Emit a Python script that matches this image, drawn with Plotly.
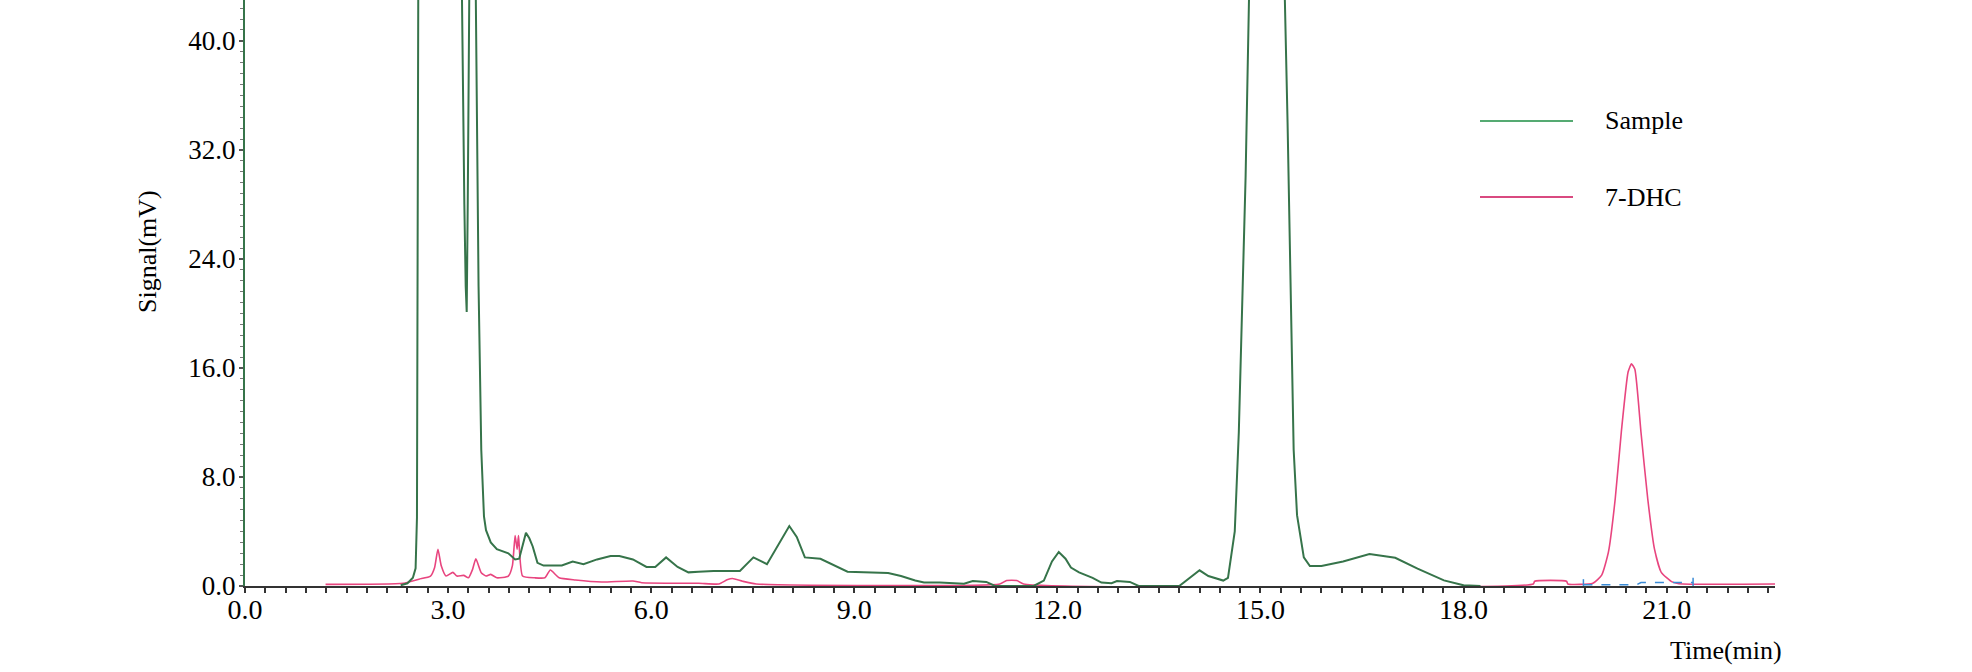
import plotly.graph_objects as go

# ---- data ----
sample_t = [2.30, 2.40, 2.48, 2.52, 2.54, 2.56, 2.65, 2.85, 3.05, 3.17, 3.20, 3.22, 3.24, 3.26, 3.275,
            3.29, 3.31, 3.36, 3.40, 3.41, 3.43, 3.45, 3.47, 3.49, 3.53, 3.56, 3.63, 3.72, 3.89, 3.99,
            4.05, 4.10, 4.15, 4.20, 4.25, 4.32, 4.41, 4.68, 4.84, 5.00, 5.20, 5.40, 5.53, 5.73, 5.93,
            6.06, 6.22, 6.39, 6.55, 6.70, 6.92, 7.31, 7.51, 7.71, 7.90, 8.04, 8.15, 8.27, 8.50, 8.70,
            8.90, 9.50, 9.69, 9.90, 10.03, 10.26, 10.62, 10.75, 10.95, 11.08, 11.65, 11.80, 11.92, 12.02,
            12.12, 12.20, 12.32, 12.52, 12.65, 12.80, 12.88, 13.07, 13.20, 13.80, 13.95, 14.10, 14.23,
            14.45, 14.52, 14.62, 14.68, 14.73, 14.78, 14.83, 14.95, 15.09, 15.22, 15.36, 15.40, 15.44,
            15.49, 15.54, 15.64, 15.73, 15.90, 16.22, 16.61, 16.99, 17.32, 17.71, 18.00, 18.25]
sample_mv = [0.05, 0.2, 0.6, 1.3, 5.0, 45, 95, 150, 110, 55, 43, 35, 28, 22, 20.1,
             28, 48, 75, 48, 42, 30, 22, 16, 10, 5.1, 4.1, 3.2, 2.7, 2.4, 1.95,
             2.0, 3.0, 3.9, 3.5, 2.9, 1.7, 1.5, 1.5, 1.8, 1.6, 1.95, 2.2, 2.2, 1.95, 1.4,
             1.4, 2.1, 1.4, 1.0, 1.05, 1.1, 1.1, 2.1, 1.6, 3.2, 4.4, 3.6, 2.1, 2.0, 1.5,
             1.05, 0.95, 0.73, 0.4, 0.25, 0.25, 0.17, 0.37, 0.3, 0.0, 0.0, 0.4, 1.8, 2.5,
             2.0, 1.35, 1.0, 0.6, 0.25, 0.2, 0.37, 0.3, 0.0, 0.0, 0.6, 1.15, 0.73,
             0.4, 0.6, 4.0, 11.3, 20, 30, 43, 95, 140, 95, 43, 34, 22,
             10, 5.2, 2.1, 1.46, 1.46, 1.8, 2.35, 2.07, 1.27, 0.41, 0.05, 0.0]

dhc_t = [1.19, 2.34, 2.57, 2.74, 2.80, 2.85, 2.90, 2.97, 3.07, 3.13, 3.23, 3.30, 3.36, 3.41, 3.49,
         3.56, 3.63, 3.72, 3.89, 3.95, 3.99, 4.02, 4.04, 4.10, 4.28, 4.43, 4.51, 4.64, 4.88, 5.27,
         5.73, 5.86, 6.70, 7.00, 7.12, 7.20, 7.35, 7.55, 11.15, 11.25, 11.40, 11.50, 19.03, 19.05,
         19.52, 19.54, 19.91, 20.04, 20.14, 20.24, 20.33, 20.43, 20.48, 20.53, 20.62, 20.72, 20.82,
         20.92, 21.08, 21.18, 22.60]
dhc_mv = [0.12, 0.2, 0.5, 0.73, 1.34, 2.7, 1.46, 0.73, 1.0, 0.73, 0.78, 0.6, 1.2, 2.0, 0.97,
          0.73, 0.85, 0.6, 0.73, 1.5, 3.7, 2.7, 3.7, 0.73, 0.6, 0.6, 1.17, 0.6, 0.44, 0.29,
          0.37, 0.24, 0.2, 0.15, 0.45, 0.55, 0.35, 0.15, 0.15, 0.4, 0.4, 0.15, 0.15, 0.35,
          0.35, 0.15, 0.2, 0.8, 2.5, 6.4, 11.3, 15.7, 16.3, 15.9, 11.3, 6.4, 2.7,
          1.0, 0.3, 0.17, 0.15]

# integration baseline of the 7-DHC peak
base_t = [19.77, 20.56, 20.62, 21.39]
base_mv = [0.1, 0.1, 0.25, 0.25]
mark_t = [19.77, 19.77, None, 21.39, 21.39]
mark_mv = [-0.1, 0.5, None, -0.1, 0.6]

series_names = ["Sample", "7-DHC"]
x_title = "Time(min)"
y_title = "Signal(mV)"

GREEN = "#36744a"
PINK = "#e8457f"
FONT = "Liberation Serif"

fig = go.Figure()
fig.add_trace(go.Scatter(x=dhc_t, y=dhc_mv, mode="lines", name=series_names[1],
                         line=dict(color=PINK, width=1.6, shape="spline", smoothing=0.5),
                         showlegend=False))
fig.add_trace(go.Scatter(x=sample_t, y=sample_mv, mode="lines", name=series_names[0],
                         line=dict(color=GREEN, width=2), showlegend=False))
fig.add_trace(go.Scatter(x=base_t, y=base_mv, mode="lines",
                         line=dict(color="#3b8bd6", width=1.5, dash="dash"), showlegend=False))
fig.add_trace(go.Scatter(x=mark_t, y=mark_mv, mode="lines",
                         line=dict(color="#3b8bd6", width=1.5), showlegend=False))

# manual legend (long sample lines as in the reference)
leg = [(series_names[0], "#55aa72", 1 - 121 / 586), (series_names[1], "#d94a80", 1 - 197 / 586)]
for name, col, yy in leg:
    fig.add_shape(type="line", xref="paper", yref="paper",
                  x0=(1480 - 245) / 1530, x1=(1573 - 245) / 1530, y0=yy, y1=yy,
                  line=dict(color=col, width=2))
    fig.add_annotation(text=name, xref="paper", yref="paper",
                       x=(1603 - 245) / 1530, y=yy, xanchor="left", yanchor="middle",
                       showarrow=False, font=dict(family=FONT, size=26, color="black"))

fig.add_annotation(text=x_title, xref="paper", yref="paper",
                   x=(1726 - 245) / 1530, y=(586 - 650) / 586, xanchor="center", yanchor="middle",
                   showarrow=False, font=dict(family=FONT, size=26, color="black"))
fig.add_annotation(text=y_title, xref="paper", yref="paper", textangle=-90,
                   x=(148 - 245) / 1530, y=(586 - 252) / 586, xanchor="center", yanchor="middle",
                   showarrow=False, font=dict(family=FONT, size=26, color="black"))

fig.update_layout(
    width=1972, height=672,
    margin=dict(l=245, r=197, t=0, b=86),
    paper_bgcolor="white", plot_bgcolor="white",
    font=dict(family=FONT, size=27, color="black"),
    showlegend=False,
    xaxis=dict(range=[0, 22.6], tick0=0, dtick=3, tickformat=".1f",
               showgrid=False, zeroline=False, showline=True, linecolor="#333333", linewidth=2,
               ticks="outside", ticklen=5, tickcolor="#333333", tickwidth=1.5,
               ticklabelstandoff=-8,
               minor=dict(tick0=0, dtick=0.3, ticks="outside", ticklen=5,
                          tickcolor="#333333", tickwidth=1.5),
               tickfont=dict(family=FONT, size=28, color="black")),
    yaxis=dict(range=[0, 43], tick0=0, dtick=8, tickformat=".1f",
               showgrid=False, zeroline=False, showline=True, linecolor=GREEN, linewidth=2,
               ticks="outside", ticklen=4, tickcolor="#555555", tickwidth=1.5,
               ticklabelstandoff=-2,
               minor=dict(tick0=0, dtick=0.8, ticks="outside", ticklen=3,
                          tickcolor="#777777", tickwidth=1.2),
               tickfont=dict(family=FONT, size=27, color="black")),
)

fig.write_html("out.html", config={"displayModeBar": False},
               post_script="document.body.style.margin='0px';")
